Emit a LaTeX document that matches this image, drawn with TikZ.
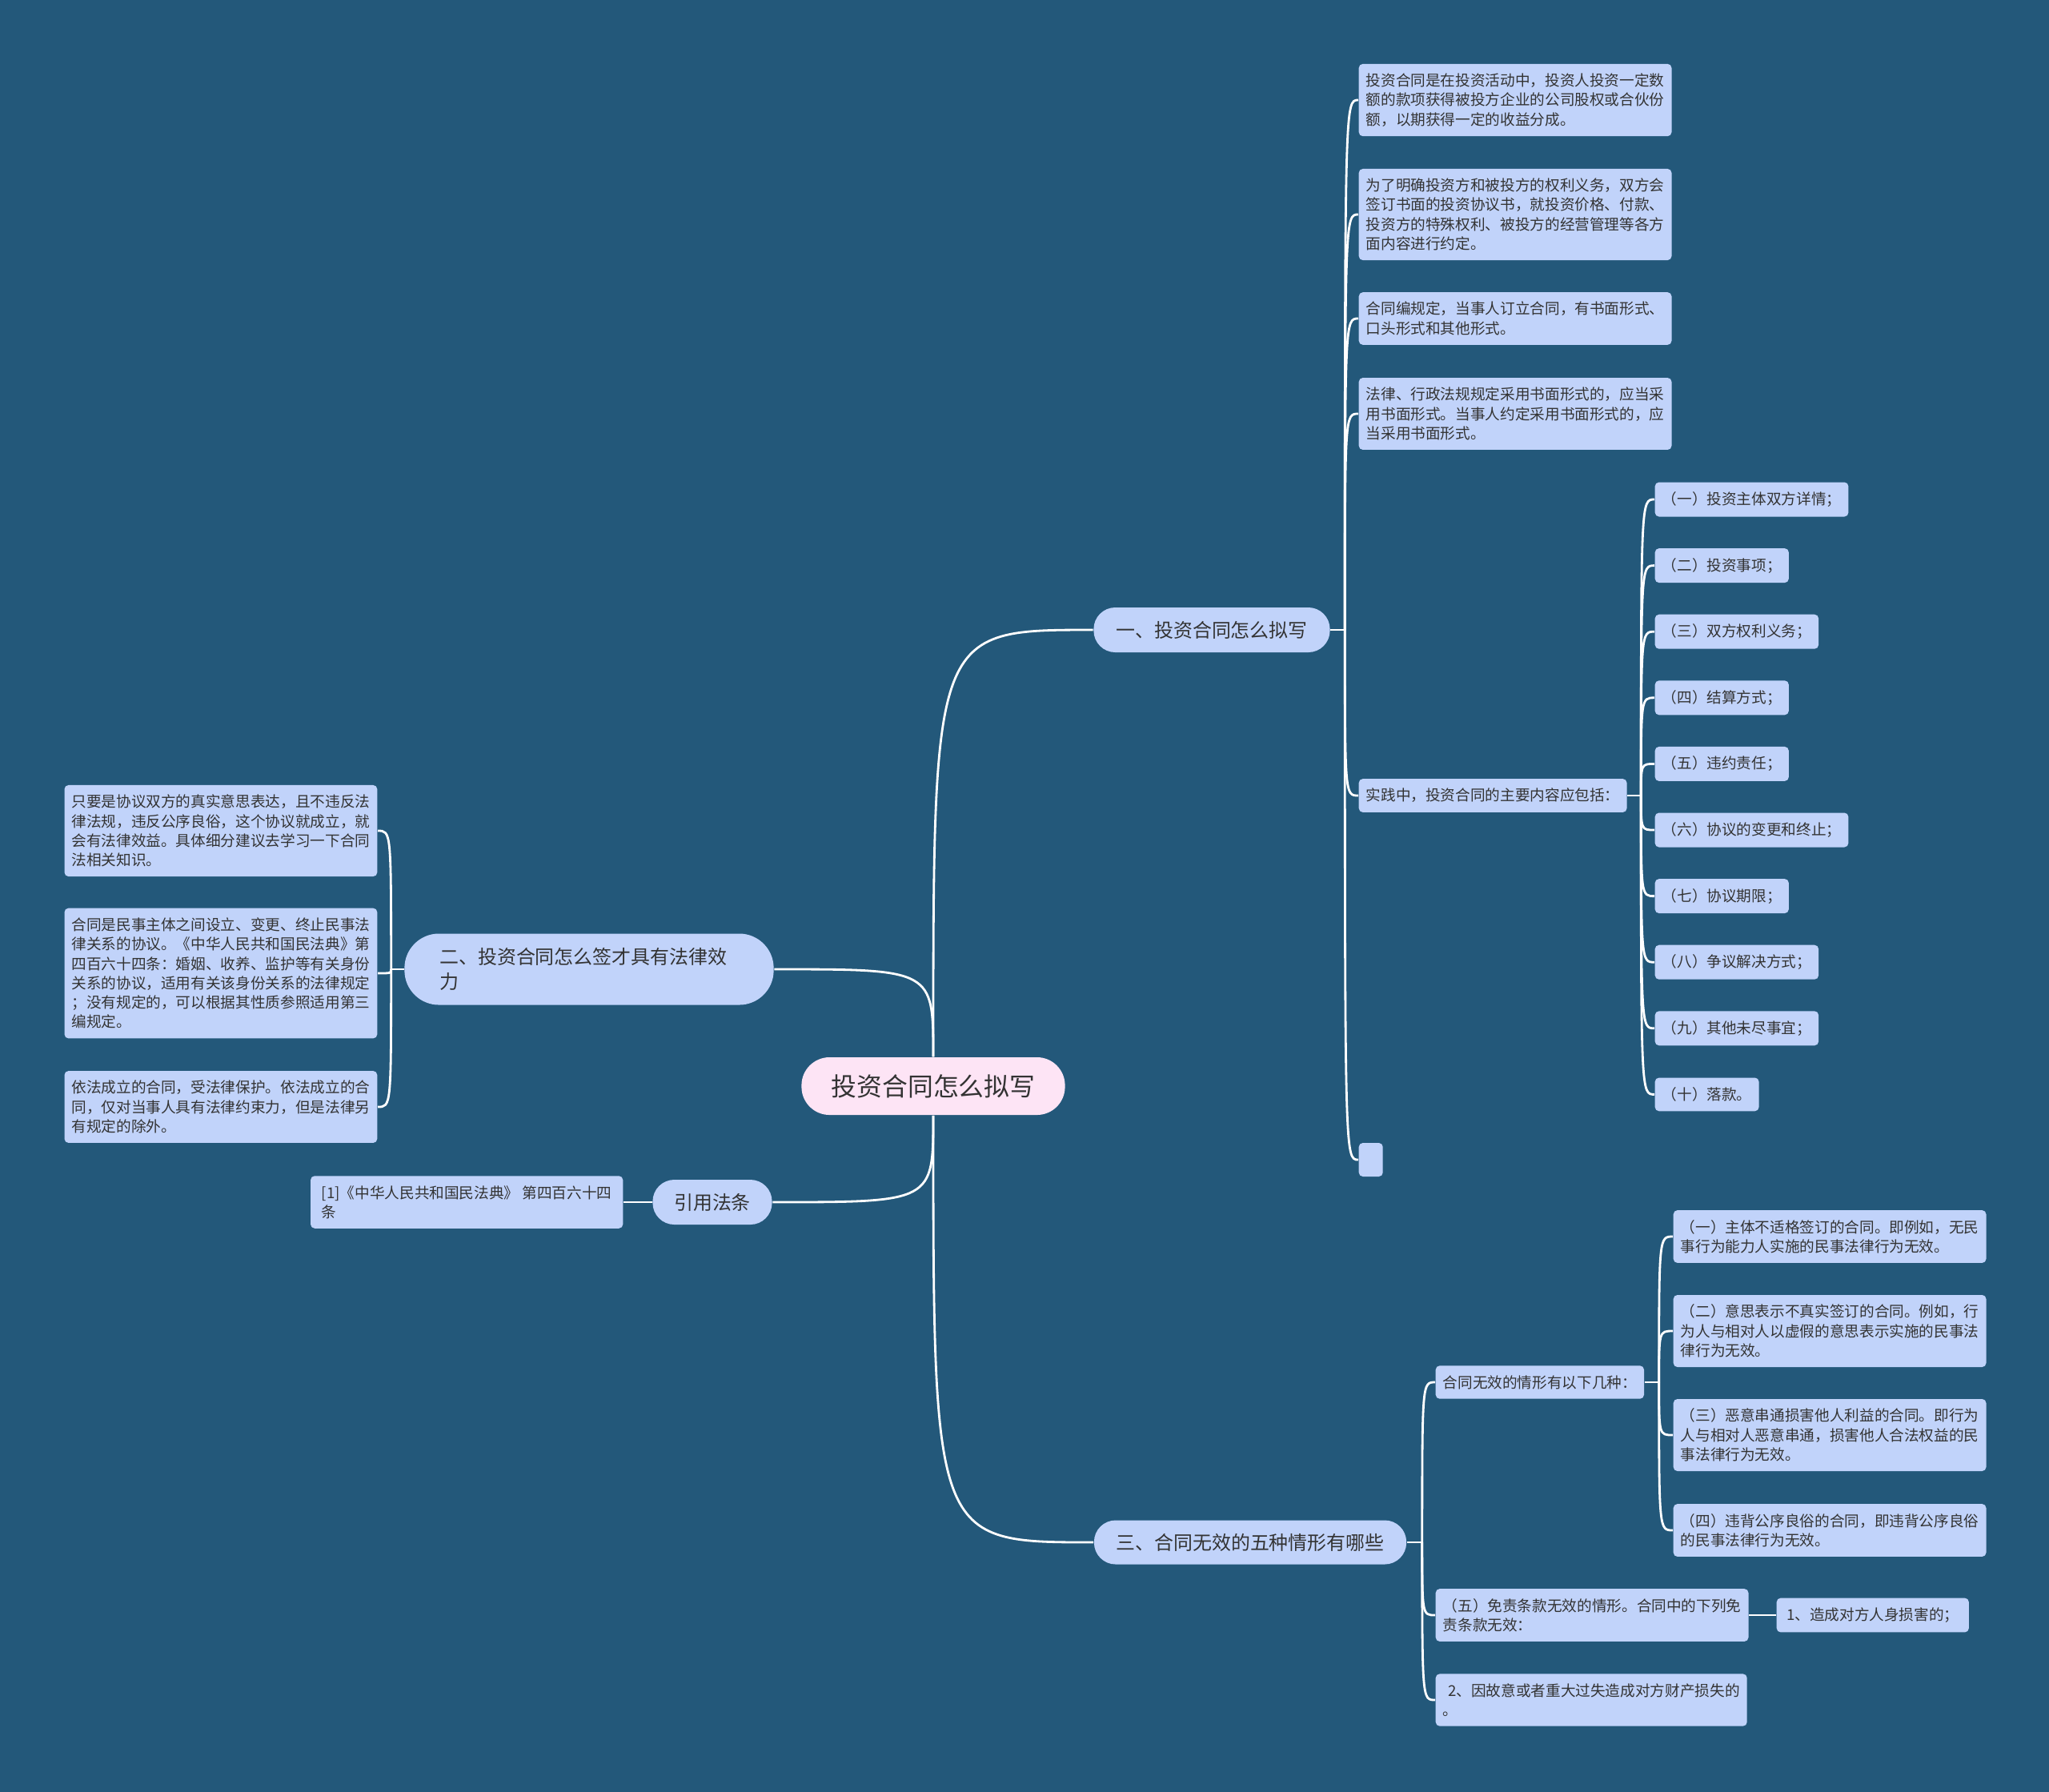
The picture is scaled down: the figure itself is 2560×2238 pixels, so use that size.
\documentclass[tikz,border=0pt]{standalone}
\usepackage{fontspec}
\newfontfamily\cjk{Noto Sans CJK SC}
\usetikzlibrary{backgrounds}

\definecolor{bgblue}{HTML}{23587A}
\definecolor{leafblue}{HTML}{C1D3FA}
\definecolor{rootpink}{HTML}{FDE4F5}
\definecolor{inkgray}{HTML}{333333}

\tikzset{
  link/.style={draw=white,line width=0.8pt},
  leaf/.style={fill=leafblue,text=inkgray,rounded corners=0.05cm,
    inner xsep=0.09cm,inner ysep=0.12cm,align=left,
    font={\cjk\fontsize{5.3pt}{6.9pt}\selectfont}},
  pill/.style={fill=leafblue,text=inkgray,inner sep=0pt,
    font={\cjk\fontsize{6.8pt}{8.8pt}\selectfont}},
  rootnode/.style={fill=rootpink,text=inkgray,inner sep=0pt,
    minimum width=3.29cm,minimum height=0.72cm,rounded corners=0.35cm,
    font={\cjk\fontsize{9.05pt}{11pt}\selectfont}}
}

\begin{document}
\begin{tikzpicture}[x=0.01cm,y=-0.01cm]
\useasboundingbox (0,0) rectangle (2560,2238);
\begin{scope}[on background layer]
\fill[bgblue] (-20,-20) rectangle (2580,2258);
\end{scope}

% centre and main topics
\node[rootnode] (root) at (1166,1357) {投资合同怎么拟写};
\node[pill,minimum width=2.95cm,minimum height=0.56cm,rounded corners=0.27cm] (b1) at (1514,787) {一、投资合同怎么拟写};
\node[pill,text width=3.73cm,inner xsep=0.44cm,align=left,minimum height=0.89cm,rounded corners=0.43cm] (b2) at (736,1211) {二、投资合同怎么签才具有法律效\\力};
\node[pill,minimum width=1.49cm,minimum height=0.56cm,rounded corners=0.27cm] (b3) at (890,1502) {引用法条};
\node[pill,minimum width=3.90cm,minimum height=0.55cm,rounded corners=0.27cm] (b4) at (1562,1927) {三、合同无效的五种情形有哪些};

% branch one
\node[leaf,anchor=west] (c1) at (1697,125) {投资合同是在投资活动中，投资人投资一定数\\额的款项获得被投方企业的公司股权或合伙份\\额，以期获得一定的收益分成。};
\node[leaf,anchor=west] (c2) at (1697,268) {为了明确投资方和被投方的权利义务，双方会\\签订书面的投资协议书，就投资价格、付款、\\投资方的特殊权利、被投方的经营管理等各方\\面内容进行约定。};
\node[leaf,anchor=west] (c3) at (1697,398) {合同编规定，当事人订立合同，有书面形式、\\口头形式和其他形式。};
\node[leaf,anchor=west] (c4) at (1697,517) {法律、行政法规规定采用书面形式的，应当采\\用书面形式。当事人约定采用书面形式的，应\\当采用书面形式。};
\node[leaf,anchor=west] (c5) at (1697,994) {实践中，投资合同的主要内容应包括：};
\node[leaf,anchor=west,inner sep=0pt,minimum width=0.30cm,minimum height=0.42cm] (c6) at (1697,1449) {};
\foreach \txt [count=\i] in {（一）投资主体双方详情；,（二）投资事项；,（三）双方权利义务；,（四）结算方式；,（五）违约责任；,（六）协议的变更和终止；,（七）协议期限；,（八）争议解决方式；,（九）其他未尽事宜；,（十）落款。}
  \node[leaf,anchor=west] (it\i) at (2067,{624+82.6*(\i-1)}) {\txt};

% branch two
\node[leaf,anchor=east] (l1) at (472,1038) {只要是协议双方的真实意思表达，且不违反法\\律法规，违反公序良俗，这个协议就成立，就\\会有法律效益。具体细分建议去学习一下合同\\法相关知识。};
\node[leaf,anchor=east] (l2) at (472,1216) {合同是民事主体之间设立、变更、终止民事法\\律关系的协议。《中华人民共和国民法典》第\\四百六十四条：婚姻、收养、监护等有关身份\\关系的协议，适用有关该身份关系的法律规定\\；没有规定的，可以根据其性质参照适用第三\\编规定。};
\node[leaf,anchor=east] (l3) at (472,1383) {依法成立的合同，受法律保护。依法成立的合\\同，仅对当事人具有法律约束力，但是法律另\\有规定的除外。};

% cited law
\node[leaf,anchor=east,minimum width=3.90cm] (r1) at (779,1502) {[1]《中华人民共和国民法典》 第四百六十四\\条};

% branch three
\node[leaf,anchor=west] (d1) at (1793,1727) {合同无效的情形有以下几种：};
\node[leaf,anchor=west] (d2) at (1793,2018) {（五）免责条款无效的情形。合同中的下列免\\责条款无效：};
\node[leaf,anchor=west] (d3) at (1793,2124) {\kern0.35em2、因故意或者重大过失造成对方财产损失的\\。};
\node[leaf,anchor=west] (e1) at (2090,1545) {（一）主体不适格签订的合同。即例如，无民\\事行为能力人实施的民事法律行为无效。};
\node[leaf,anchor=west] (e2) at (2090,1663) {（二）意思表示不真实签订的合同。例如，行\\为人与相对人以虚假的意思表示实施的民事法\\律行为无效。};
\node[leaf,anchor=west] (e3) at (2090,1793) {（三）恶意串通损害他人利益的合同。即行为\\人与相对人恶意串通，损害他人合法权益的民\\事法律行为无效。};
\node[leaf,anchor=west] (e4) at (2090,1912) {（四）违背公序良俗的合同，即违背公序良俗\\的民事法律行为无效。};
\node[leaf,anchor=west,minimum width=2.40cm] (f1) at (2219,2018) {1、造成对方人身损害的；};

% connectors
\path (b1.east) ++(18,0) coordinate (s1);
\path (b2.west) ++(-16,0) coordinate (s2);
\path (b4.east) ++(19,0) coordinate (s4);
\path (d1.east) ++(18,0) coordinate (s5);
\path (c5.east) ++(17,0) coordinate (s6);
\begin{scope}[on background layer]
\draw[link] (root.north) .. controls (root.north |- b1.west) .. (b1.west);
\draw[link] (root.north) .. controls (root.north |- b2.east) .. (b2.east);
\draw[link] (root.south) .. controls (root.south |- b3.east) .. (b3.east);
\draw[link] (root.south) .. controls (root.south |- b4.west) .. (b4.west);

\draw[link] (b1.east) -- (s1);
\foreach \c in {c1,c2,c3,c4,c5,c6}
  \draw[link] (s1) .. controls (s1 |- \c.west) .. (\c.west);
\draw[link] (c5.east) -- (s6);
\foreach \i in {1,...,10}
  \draw[link] (s6) .. controls (s6 |- it\i.west) .. (it\i.west);

\draw[link] (b2.west) -- (s2);
\foreach \c in {l1,l2,l3}
  \draw[link] (s2) .. controls (s2 |- \c.east) .. (\c.east);

\draw[link] (b3.west) -- (r1.east);

\draw[link] (b4.east) -- (s4);
\foreach \c in {d1,d2,d3}
  \draw[link] (s4) .. controls (s4 |- \c.west) .. (\c.west);
\draw[link] (d1.east) -- (s5);
\foreach \c in {e1,e2,e3,e4}
  \draw[link] (s5) .. controls (s5 |- \c.west) .. (\c.west);
\draw[link] (d2.east) -- (f1.west);
\end{scope}
\end{tikzpicture}
\end{document}
